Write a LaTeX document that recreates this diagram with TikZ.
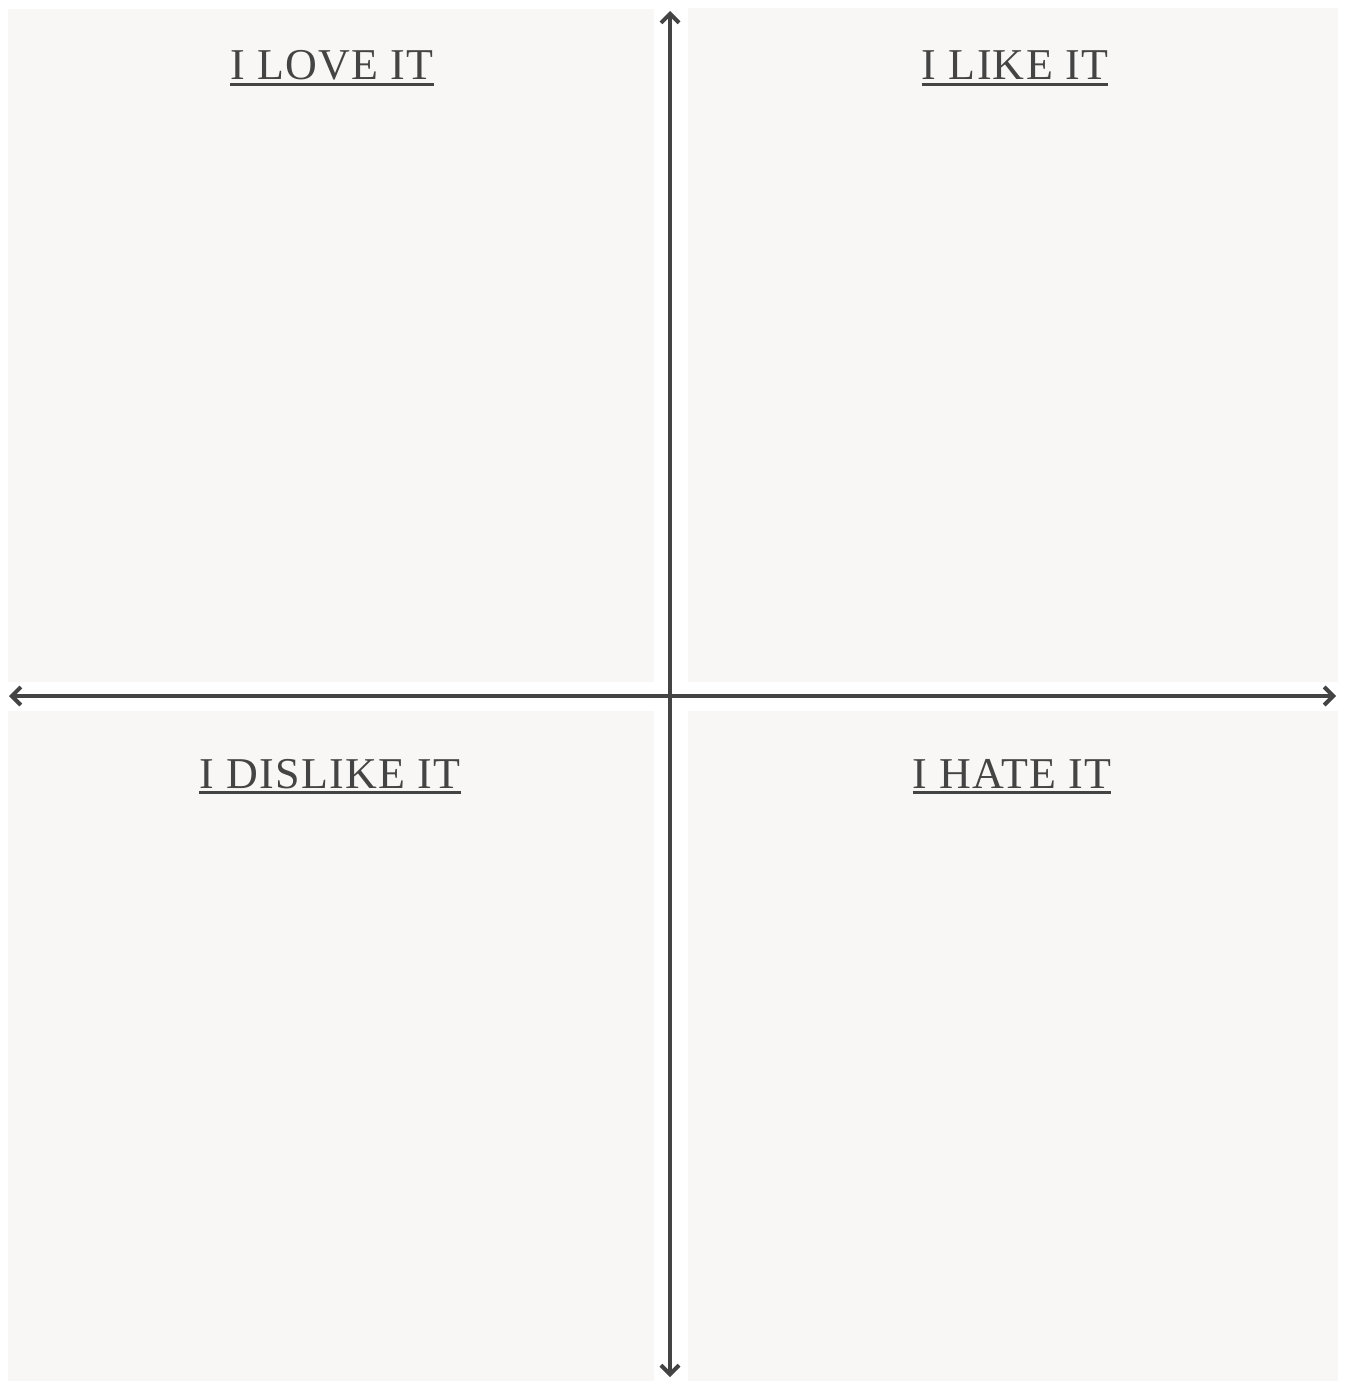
\documentclass[tikz,border=0pt]{standalone}
\usepackage{fontspec}
\setmainfont{Liberation Serif}
\usetikzlibrary{arrows.meta}
\definecolor{boxfill}{HTML}{F8F7F5}
\definecolor{ink}{HTML}{444444}
\begin{document}
\begin{tikzpicture}[x=1pt,y=-1pt,
  quad/.style={fill=boxfill,draw=none},
  axis/.style={draw=ink,line width=4pt,line cap=round,line join=round,
    {Straight Barb[length=9pt,width=18pt,line width=4pt]}-{Straight Barb[length=9pt,width=18pt,line width=4pt]}},
  title/.style={anchor=base,inner sep=0pt,text=ink,font=\addfontfeatures{LetterSpace=3}\fontsize{44}{44}\selectfont},
  uline/.style={draw=ink,line width=3pt}]
\useasboundingbox[fill=white] (0,0) rectangle (1344,1381);
\fill[quad] (8,9) rectangle (654,682);
\fill[quad] (688,8) rectangle (1338,682);
\fill[quad] (8,711) rectangle (654,1381);
\fill[quad] (688,711) rectangle (1338,1381);
\coordinate (top) at (670,11);
\coordinate (bot) at (670,1377);
\coordinate (lft) at (9,696);
\coordinate (rgt) at (1336,696);
\draw[axis] (bot) -- (top);
\draw[axis] (lft) -- (rgt);
\node[title] (love) at (332,80) {I LOVE IT};
\node[title] (like) at (1015,80) {I LIKE IT};
\node[title] (dislike) at (330,788) {I DISLIKE IT};
\node[title] (hate) at (1012,788) {I HATE IT};
\foreach \n in {love,like,dislike,hate}
  \draw[uline] ([yshift=-4pt]\n.base west) -- ([yshift=-4pt]\n.base east);
\end{tikzpicture}
\end{document}
